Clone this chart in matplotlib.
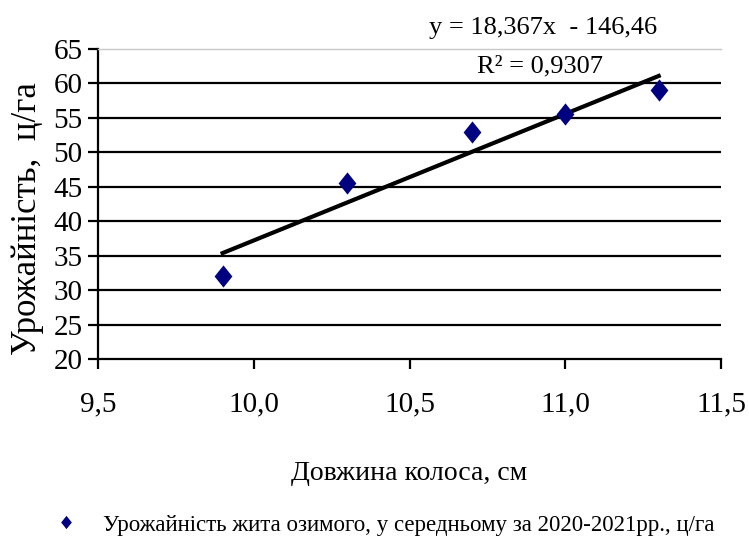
import numpy as np
import matplotlib.pyplot as plt
from matplotlib.path import Path
from matplotlib.ticker import FuncFormatter

plt.rcParams['font.family'] = ['Liberation Serif', 'DejaVu Serif']

# data
spike_len = [9.9, 10.3, 10.7, 11.0, 11.3]
yield_cha = [32.0, 45.5, 53.0, 55.6, 59.0]
slope, intercept = 18.367, -146.46
series_label = "Урожайність жита озимого, у середньому за 2020-2021рр., ц/га"

fig = plt.figure(figsize=(7.49, 5.43), dpi=100)
ax = fig.add_axes([98 / 749, 1 - 359 / 543, (721 - 98) / 749, (359 - 49) / 543])

# horizontal grid lines
for v in range(25, 65, 5):
    ax.axhline(v, color='black', lw=1.6, zorder=1)

diamond = Path([(0, 1), (0.8, 0), (0, -1), (-0.8, 0), (0, 1)], closed=True)
ax.plot(spike_len, yield_cha, linestyle='none', marker=diamond, ms=16,
        color='#000080', mec='#000080', mew=0, label=series_label, zorder=3)

tx = np.array([min(spike_len), max(spike_len)])
ax.plot(tx, slope * tx + intercept, color='black', lw=3, zorder=2)

ax.set_xlim(9.5, 11.5)
ax.set_ylim(20, 65)
ax.set_xticks(np.arange(9.5, 11.51, 0.5))
ax.set_yticks(range(20, 66, 5))
ax.xaxis.set_major_formatter(FuncFormatter(lambda v, p: f"{v:.1f}".replace('.', ',')))
ax.tick_params(axis='both', labelsize=21, width=1.6, length=7, direction='out')
ax.tick_params(axis='x', pad=16)
ax.tick_params(axis='y', pad=4)

ax.spines['right'].set_visible(False)
ax.spines['top'].set_color('#c8c8c8')
ax.spines['top'].set_linewidth(1)
ax.spines['left'].set_linewidth(1.6)
ax.spines['bottom'].set_linewidth(1.6)

ax.set_xlabel("Довжина колоса, см", fontsize=20, labelpad=32)
fig.text(28 / 749, 1 - 219 / 543, "Урожайність,  ц/га", fontsize=25,
         rotation=90, ha='center', va='center')

fig.text(543 / 749, 1 - 28 / 543, "y = 18,367x  - 146,46", fontsize=19,
         ha='center', va='center')
fig.text(540 / 749, 1 - 66 / 543, "R² = 0,9307", fontsize=19,
         ha='center', va='center')

fig.legend(loc='center', bbox_to_anchor=(379 / 749, 1 - 525 / 543), frameon=False,
           fontsize=16.5, handletextpad=0.6, markerscale=0.6)

fig.savefig('out.png', dpi=100)
